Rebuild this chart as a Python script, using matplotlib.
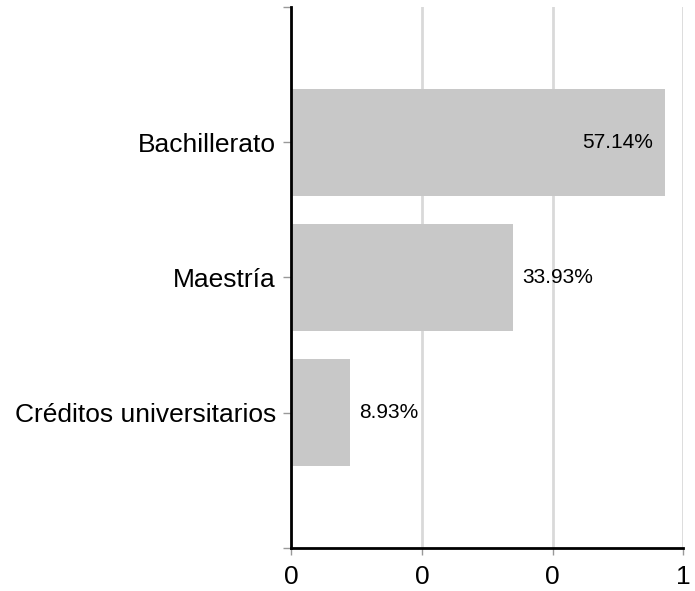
import matplotlib
matplotlib.use('Agg')
import matplotlib.pyplot as plt
import numpy as np

plt.rcParams['font.family'] = ['Liberation Sans', 'DejaVu Sans']

# datos
categorias = ['Bachillerato', 'Maestría', 'Créditos universitarios']
valores = [0.5714, 0.3393, 0.0893]
etiquetas = ['57.14%', '33.93%', '8.93%']
ticks_x = [0, 0.2, 0.4, 0.6]

fig = plt.figure(figsize=(6.95, 5.91), dpi=100)
ax = fig.add_axes([0.419, 0.073, 0.564, 0.915])

pos = np.arange(len(categorias))
barras = ax.barh(pos, valores, height=0.79, color='#c8c8c8', zorder=2)

ax.set_xlim(0, 0.6)
ax.set_ylim(3, -1)
ax.set_xticks(ticks_x)
ax.set_xticklabels(['%d' % round(t) for t in ticks_x], fontsize=19)
ax.set_yticks(pos)
ax.set_yticklabels(categorias, fontsize=19)
# marcas en los extremos del eje
ax.set_yticks([-1, 3], minor=True)

ax.grid(axis='x', color='#d9d9d9', linewidth=2, zorder=0)
for s in ['top', 'right']:
    ax.spines[s].set_visible(False)
ax.spines['left'].set_linewidth(2)
ax.spines['bottom'].set_linewidth(2)
ax.tick_params(axis='x', color='#999999', length=5, width=1, pad=7)
ax.tick_params(axis='y', which='both', color='#999999', length=6, width=1, pad=5)

# etiquetas de valor
for i, v in enumerate(valores):
    if v > 0.5:
        ax.text(v - 0.017, i, etiquetas[i], ha='right', va='center', fontsize=15, zorder=3)
    else:
        ax.text(v + 0.015, i, etiquetas[i], ha='left', va='center', fontsize=15, zorder=3)

plt.savefig('out.png', dpi=100)
